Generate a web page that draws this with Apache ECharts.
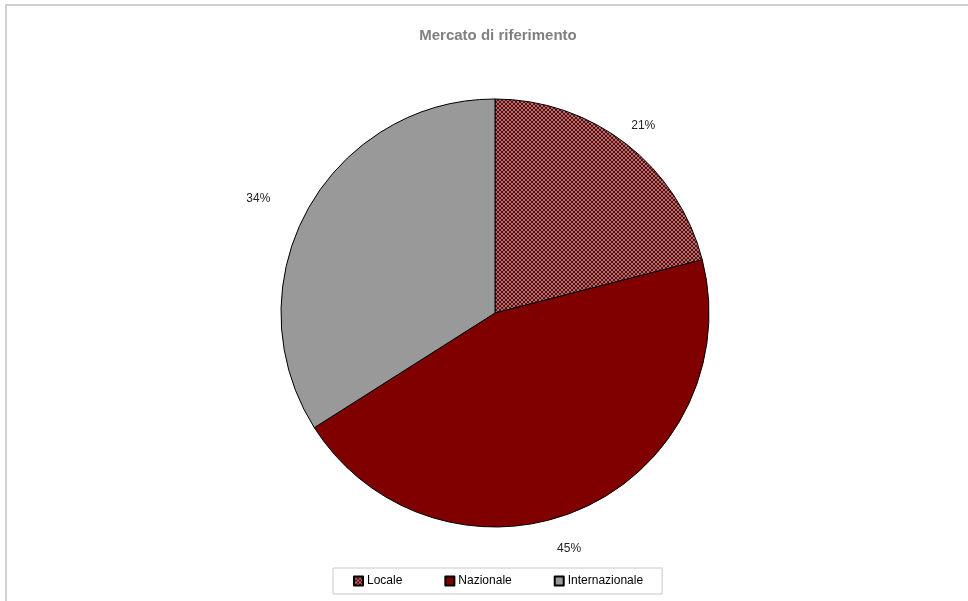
<!DOCTYPE html>
<html>
<head>
<meta charset="utf-8">
<script src="https://cdn.jsdelivr.net/npm/echarts@6/dist/echarts.min.js"></script>
<style>
  html, body { margin: 0; padding: 0; background: #fff; }
  #chart { width: 968px; height: 601px; }
</style>
</head>
<body>
<div id="chart"></div>
<script>
// Reference market shares (percent)
const categories = ['Locale', 'Nazionale', 'Internazionale'];
const shares = [21, 45, 34];
const titleText = 'Mercato di riferimento';

// Small cross-hatch tile: dark red with a grey diagonal lattice
function hatchTile() {
  const c = document.createElement('canvas');
  c.width = 4; c.height = 4;
  const g = c.getContext('2d');
  g.fillStyle = '#7a0000';
  g.fillRect(0, 0, 4, 4);
  g.fillStyle = '#927878';
  [[0,0],[1,1],[2,2],[3,3],[3,0],[2,1],[1,2],[0,3]].forEach(function (p) {
    g.fillRect(p[0], p[1], 1, 1);
  });
  return c;
}

const fills = [
  { image: hatchTile(), repeat: 'repeat' },
  '#800000',
  '#999999'
];
const labelLines = [
  { length: 23, length2: -14 },
  { length: 43, length2: -45 },
  { length: 23, length2: 12 }
];

const chart = echarts.init(document.getElementById('chart'), null, { renderer: 'canvas' });
chart.setOption({
  animation: false,
  backgroundColor: '#ffffff',
  graphic: [{
    type: 'rect',
    shape: { x: 6, y: 5, width: 1200, height: 1200 },
    style: { fill: 'none', stroke: '#d0d0d0', lineWidth: 2 },
    silent: true
  }],
  title: {
    text: titleText,
    left: 493,
    textAlign: 'center',
    top: 23,
    textStyle: {
      fontFamily: 'Liberation Sans, Arial, sans-serif',
      fontSize: 15,
      fontWeight: 'bold',
      color: '#808080'
    }
  },
  legend: {
    data: categories,
    left: 333,
    bottom: 7,
    orient: 'horizontal',
    itemWidth: 9,
    itemHeight: 9,
    itemGap: 42,
    padding: [7, 19, 7, 20],
    borderColor: '#c8c8c8',
    borderWidth: 1,
    icon: 'rect',
    textStyle: {
      fontFamily: 'Liberation Sans, Arial, sans-serif',
      fontSize: 12,
      color: '#000',
      padding: [0, 0, 0, -1]
    }
  },
  series: [{
    type: 'pie',
    center: [495, 313],
    radius: 214,
    startAngle: 90,
    clockwise: true,
    avoidLabelOverlap: false,
    itemStyle: { borderColor: '#000', borderWidth: 1 },
    emphasis: { disabled: true },
    label: {
      show: true,
      position: 'outside',
      formatter: '{c}%',
      fontFamily: 'Liberation Sans, Arial, sans-serif',
      fontSize: 12,
      color: '#222'
    },
    labelLine: { show: false },
    data: categories.map(function (name, i) {
      return {
        name: name,
        value: shares[i],
        itemStyle: { color: fills[i] },
        labelLine: { show: false, length: labelLines[i].length, length2: labelLines[i].length2 }
      };
    })
  }]
});
</script>
</body>
</html>
